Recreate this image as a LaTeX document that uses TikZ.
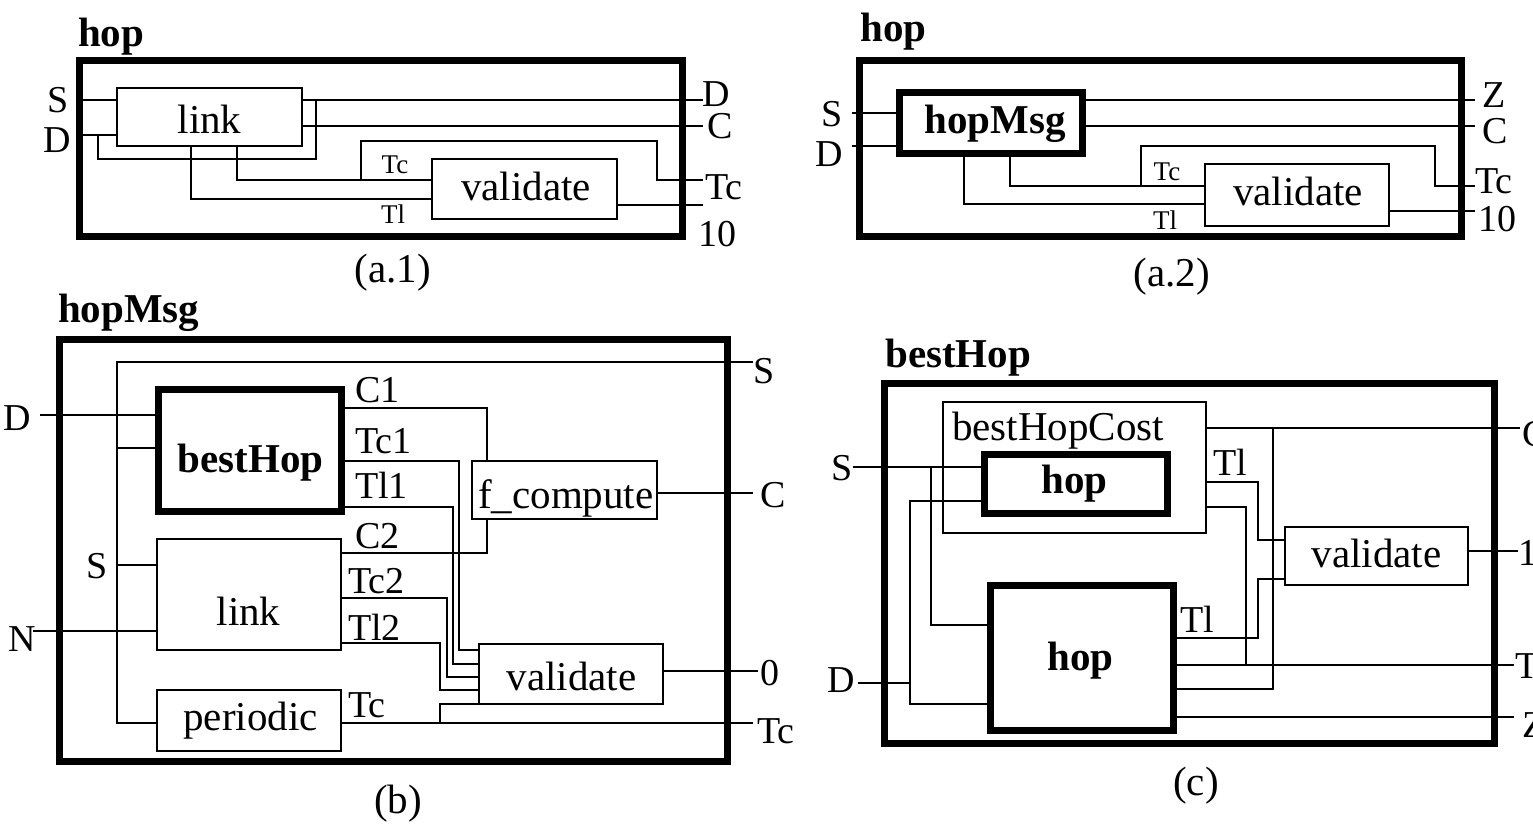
\documentclass[tikz,border=0pt]{standalone}
\usepackage{fontspec}
\setmainfont{Liberation Serif}
\begin{document}
\begin{tikzpicture}[x=1pt,y=-1pt,
  wire/.style={line width=1.6pt},
  thinbox/.style={draw, line width=1.6pt, inner sep=0pt, outer sep=0pt},
  thickbox/.style={draw, line width=7pt, inner sep=0pt, outer sep=0pt},
  boxtxt/.style={inner sep=0pt, font=\fontsize{41}{41}\selectfont},
  boldtxt/.style={inner sep=0pt, font=\fontsize{41}{41}\selectfont\bfseries},
  port/.style={inner sep=0pt, font=\fontsize{38}{38}\selectfont},
  tinyport/.style={inner sep=0pt, font=\fontsize{27}{27}\selectfont}]
\useasboundingbox (0,0) rectangle (1533,832);

% ================= (a.1) =================
\node[thickbox, minimum width=602.5pt, minimum height=175pt] (a1o) at (380.75,148.5) {};
\node[thinbox, minimum width=185pt, minimum height=58pt] (a1link) at (209.5,117) {};
\node[thinbox, minimum width=185pt, minimum height=60pt] (a1val) at (524.5,189) {};
\node[boldtxt, anchor=base west] (a1title) at (78,47) {hop};
\node[boxtxt, anchor=base] (a1linkt) at (209.5,133) {link};
\node[boxtxt, anchor=base] (a1valt) at (526,200) {validate};
\node[port, anchor=base east] (a1Sl) at (69,113) {S};
\node[port, anchor=base east] (a1Dl) at (71,153) {D};
\node[port, anchor=base west] (a1Do) at (702,107) {D};
\node[port, anchor=base west] (a1Co) at (707,139) {C};
\node[port, anchor=base west] (a1Tco) at (705,199) {Tc};
\node[port, anchor=base west] (a1Xo) at (698,246) {10};
\node[tinyport, anchor=base] (a1tc) at (395,173) {Tc};
\node[tinyport, anchor=base] (a1tl) at (393,223) {Tl};
\node[boxtxt, anchor=base] (a1cap) at (393,282) {(a.1)};
\coordinate (a1D) at (703,100);
\coordinate (a1C) at (703,126);
\coordinate (a1Tc) at (703,180);
\coordinate (a1X) at (703,205);
\draw[wire] (a1o.west |- 0,100) -- (a1link.west |- 0,100);
\draw[wire] (a1o.west |- 0,135) -- (a1link.west |- 0,135);
\draw[wire] (98,135) -- (98,159) -- (316,159) -- (316,100);
\draw[wire] (a1link.east |- 0,100) -- (a1D);
\draw[wire] (a1link.east |- 0,126) -- (a1C);
\draw[wire] (191,146) -- (191,199) -- (a1val.west |- 0,199);
\draw[wire] (237,146) -- (237,180) -- (a1val.west |- 0,180);
\draw[wire] (361,180) -- (361,141) -- (657,141) -- (657,180) -- (a1Tc);
\draw[wire] (a1val.east |- 0,205) -- (a1X);

% ================= (a.2) =================
\node[thickbox, minimum width=601.5pt, minimum height=175pt] (a2o) at (1160.25,148.5) {};
\node[thickbox, minimum width=183pt, minimum height=60pt] (a2hm) at (990.5,123) {};
\node[thinbox, minimum width=184pt, minimum height=62pt] (a2val) at (1297,195) {};
\node[boldtxt, anchor=base west] (a2title) at (860,42) {hop};
\node[boldtxt, anchor=base] (a2hmt) at (995,133) {hopMsg};
\node[boxtxt, anchor=base] (a2valt) at (1298,205) {validate};
\node[port, anchor=base east] (a2Sl) at (843,127) {S};
\node[port, anchor=base east] (a2Dl) at (843,166) {D};
\node[port, anchor=base west] (a2Zo) at (1482,108) {Z};
\node[port, anchor=base west] (a2Co) at (1482,143) {C};
\node[port, anchor=base west] (a2Tco) at (1475,193) {Tc};
\node[port, anchor=base west] (a2Xo) at (1478,231) {10};
\node[tinyport, anchor=base] (a2tc) at (1167,180) {Tc};
\node[tinyport, anchor=base] (a2tl) at (1165,229) {Tl};
\node[boxtxt, anchor=base] (a2cap) at (1172,286) {(a.2)};
\coordinate (a2S) at (852,113);
\coordinate (a2Din) at (852,146);
\coordinate (a2Z) at (1475,100);
\coordinate (a2C) at (1475,126);
\coordinate (a2Tc) at (1475,186);
\coordinate (a2X) at (1475,211);
\draw[wire] (a2S) -- (a2hm.west |- a2S);
\draw[wire] (a2Din) -- (a2hm.west |- a2Din);
\draw[wire] (a2hm.east |- a2Z) -- (a2Z);
\draw[wire] (a2hm.east |- a2C) -- (a2C);
\draw[wire] (964,153) -- (964,204) -- (a2val.west |- 0,204);
\draw[wire] (1010,153) -- (1010,186) -- (a2val.west |- 0,186);
\draw[wire] (1141,186) -- (1141,146) -- (1435,146) -- (1435,186) -- (a2Tc);
\draw[wire] (a2val.east |- a2X) -- (a2X);

% ================= (b) =================
\node[thickbox, minimum width=668.5pt, minimum height=422pt] (bo) at (393.25,550) {};
\node[thickbox, minimum width=182.5pt, minimum height=122pt] (bbh) at (249.75,450.5) {};
\node[thinbox, minimum width=185pt, minimum height=58pt] (bfc) at (564.5,490) {};
\node[thinbox, minimum width=184pt, minimum height=111pt] (blink) at (249,594.5) {};
\node[thinbox, minimum width=184pt, minimum height=61pt] (bper) at (249,720.5) {};
\node[thinbox, minimum width=184pt, minimum height=60pt] (bval) at (571,674) {};
\node[boldtxt, anchor=base west] (btitle) at (58,322) {hopMsg};
\node[boldtxt, anchor=base] (bbht) at (250.5,472) {bestHop};
\node[boxtxt, anchor=base west] (bfct) at (478,508) {f\_compute};
\node[boxtxt, anchor=base] (blinkt) at (248.5,625) {link};
\node[boxtxt, anchor=base] (bpert) at (250.5,730) {periodic};
\node[boxtxt, anchor=base] (bvalt) at (571.5,690) {validate};
\node[port, anchor=base east] (bDl) at (31,430) {D};
\node[port, anchor=base east] (bSl) at (108,578) {S};
\node[port, anchor=base east] (bNl) at (36,651) {N};
\node[port, anchor=base west] (bC1) at (355,402) {C1};
\node[port, anchor=base west] (bTc1) at (355,453) {Tc1};
\node[port, anchor=base west] (bTl1) at (355,498) {Tl1};
\node[port, anchor=base west] (bC2) at (355,548) {C2};
\node[port, anchor=base west] (bTc2) at (348,593) {Tc2};
\node[port, anchor=base west] (bTl2) at (348,640) {Tl2};
\node[port, anchor=base west] (bTcp) at (348,717) {Tc};
\node[port, anchor=base west] (bSo) at (753,383) {S};
\node[port, anchor=base west] (bCo) at (760,507) {C};
\node[port, anchor=base west] (bOo) at (760,685) {0};
\node[port, anchor=base west] (bTco) at (757,743) {Tc};
\node[boxtxt, anchor=base] (bcap) at (398,813) {(b)};
\coordinate (bS) at (753,362);
\coordinate (bD) at (40,415);
\coordinate (bN) at (33,631);
\coordinate (bC) at (753,493);
\coordinate (bO) at (758,671);
\coordinate (bTc) at (753,723);
\draw[wire] (bS) -- (117,362) -- (117,723) -- (bper.west |- 0,723);
\draw[wire] (bD) -- (bbh.west |- bD);
\draw[wire] (117,448) -- (bbh.west |- 0,448);
\draw[wire] (117,565) -- (blink.west |- 0,565);
\draw[wire] (bN) -- (blink.west |- bN);
\draw[wire] (bbh.east |- 0,408) -- (487,408) -- (bfc.north -| 487,0);
\draw[wire] (bbh.east |- 0,461) -- (459,461) -- (459,650) -- (bval.west |- 0,650);
\draw[wire] (bbh.east |- 0,507) -- (453,507) -- (453,664) -- (bval.west |- 0,664);
\draw[wire] (blink.east |- 0,553) -- (487,553) -- (bfc.south -| 487,0);
\draw[wire] (blink.east |- 0,598) -- (447,598) -- (447,677) -- (bval.west |- 0,677);
\draw[wire] (blink.east |- 0,643) -- (440,643) -- (440,690) -- (bval.west |- 0,690);
\draw[wire] (bper.east |- bTc) -- (bTc);
\draw[wire] (440,723) -- (440,704) -- (bval.south west);
\draw[wire] (bfc.east |- bC) -- (bC);
\draw[wire] (bval.east |- bO) -- (bO);

% ================= (c) =================
\node[thickbox, minimum width=610pt, minimum height=360pt] (co) at (1189,563) {};
\node[thinbox, minimum width=263pt, minimum height=131pt] (cbhc) at (1074.5,467.5) {};
\node[thickbox, minimum width=182.5pt, minimum height=59.5pt] (chop1) at (1075.75,483.75) {};
\node[thickbox, minimum width=182.5pt, minimum height=145pt] (chop2) at (1081.75,657.5) {};
\node[thinbox, minimum width=183pt, minimum height=58pt] (cval) at (1376.5,556) {};
\node[boldtxt, anchor=base west] (ctitle) at (885,367) {bestHop};
\node[boxtxt, anchor=base west] (cbhct) at (952,440) {bestHopCost};
\node[boldtxt, anchor=base] (chop1t) at (1074.5,493) {hop};
\node[boldtxt, anchor=base] (chop2t) at (1080.5,670) {hop};
\node[boxtxt, anchor=base] (cvalt) at (1376.5,567) {validate};
\node[port, anchor=base east] (cSl) at (853,480) {S};
\node[port, anchor=base east] (cDl) at (855,692) {D};
\node[port, anchor=base west] (cTl1) at (1213,475) {Tl};
\node[port, anchor=base west] (cTl2) at (1180,632) {Tl};
\node[port, anchor=base west] (cCo) at (1522,446) {C};
\node[port, anchor=base west] (cXo) at (1518,565) {1};
\node[port, anchor=base west] (cTo) at (1515,678) {T};
\node[port, anchor=base west] (cZo) at (1522,737) {Z};
\node[boxtxt, anchor=base] (ccap) at (1196,795) {(c)};
\coordinate (cS) at (853,467);
\coordinate (cD) at (858,683);
\coordinate (cC) at (1520,428);
\coordinate (cX) at (1518,551);
\coordinate (cT) at (1514,665);
\coordinate (cZ) at (1514,717);
\draw[wire] (cS) -- (chop1.west |- cS);
\draw[wire] (931,467) -- (931,625) -- (chop2.west |- 0,625);
\draw[wire] (cD) -- (910,683);
\draw[wire] (chop1.west |- 0,501) -- (910,501) -- (910,704) -- (chop2.west |- 0,704);
\draw[wire] (cbhc.east |- cC) -- (cC);
\draw[wire] (cbhc.east |- 0,482) -- (1258,482) -- (1258,540) -- (cval.west |- 0,540);
\draw[wire] (cbhc.east |- 0,507) -- (1246,507) -- (1246,665);
\draw[wire] (chop2.east |- 0,638) -- (1258,638) -- (1258,579) -- (cval.west |- 0,579);
\draw[wire] (chop2.east |- cT) -- (cT);
\draw[wire] (chop2.east |- 0,689) -- (1273,689) -- (1273,428);
\draw[wire] (chop2.east |- cZ) -- (cZ);
\draw[wire] (cval.east |- cX) -- (cX);
\end{tikzpicture}
\end{document}
